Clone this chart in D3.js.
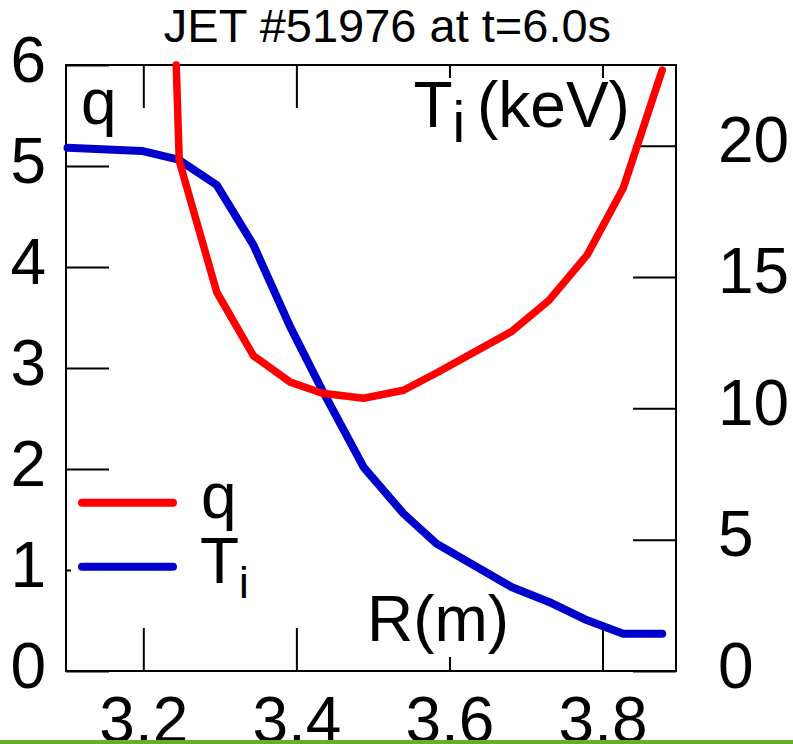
<!DOCTYPE html>
<html><head><meta charset="utf-8">
<script src="https://cdn.jsdelivr.net/npm/d3@7"></script>
<style>body{margin:0;background:#fff}svg{display:block}text{font-family:"Liberation Sans",Arial,sans-serif;fill:#000}</style>
</head><body><svg id="c" width="793" height="744"></svg>
<script>
// ---- data ----
const titleText = "JET #51976 at t=6.0s";
const rTi = [3.101, 3.198, 3.246, 3.296, 3.344, 3.392, 3.434, 3.488, 3.540, 3.583, 3.681, 3.730, 3.780, 3.827, 3.878];
const tiVals = [19.92, 19.80, 19.47, 18.50, 16.21, 13.10, 10.68, 7.75, 5.99, 4.85, 3.20, 2.63, 1.93, 1.42, 1.42];
const rQ = [3.243, 3.247, 3.296, 3.344, 3.392, 3.434, 3.488, 3.540, 3.583, 3.681, 3.730, 3.780, 3.827, 3.878];
const qVals = [6.0, 5.05, 3.75, 3.12, 2.86, 2.75, 2.70, 2.78, 2.95, 3.36, 3.67, 4.12, 4.78, 5.95];
const xTicks = [3.2, 3.4, 3.6, 3.8];
const qTicks = [0, 1, 2, 3, 4, 5, 6];
const tiTicks = [0, 5, 10, 15, 20];

// ---- layout ----
const svg = d3.select("#c");
const L = 66, T = 65, R = 676, B = 671, TL = 43;
const FS = 64;
const x = d3.scaleLinear().domain([3.099, 3.896]).range([L, R]);
const yq = d3.scaleLinear().domain([0, 6]).range([B, T]);
const yt = d3.scaleLinear().domain([0, 23.07]).range([B, T]);

function styleAxis(g) {
  g.select(".domain").remove();
  g.selectAll(".tick line").attr("stroke", "#000").attr("stroke-width", 2);
  g.selectAll(".tick text").attr("font-size", FS).attr("font-family", '"Liberation Sans",Arial,sans-serif').attr("fill", "#000");
}

// axes
svg.append("g").attr("transform", `translate(${L},0)`)
  .call(d3.axisLeft(yq).tickValues(qTicks).tickSize(-TL).tickPadding(20).tickFormat(d3.format("d")))
  .call(styleAxis).call(g => g.selectAll(".tick text").attr("dy", "0.25em"));
svg.append("g").attr("transform", `translate(${R},0)`)
  .call(d3.axisRight(yt).tickValues(tiTicks).tickSize(-TL).tickPadding(42).tickFormat(d3.format("d")))
  .call(styleAxis).call(g => g.selectAll(".tick text").attr("dy", "0.25em"));
svg.append("g").attr("transform", `translate(0,${B})`)
  .call(d3.axisBottom(x).tickValues(xTicks).tickSize(-TL).tickPadding(26).tickFormat(d3.format(".1f")))
  .call(styleAxis);
svg.append("g").attr("transform", `translate(0,${T})`)
  .call(d3.axisTop(x).tickValues(xTicks).tickSize(-TL).tickFormat(""))
  .call(styleAxis);

// frame
svg.append("rect").attr("x", L).attr("y", T).attr("width", R - L).attr("height", B - T)
  .attr("fill", "none").attr("stroke", "#000").attr("stroke-width", 2);

// title
svg.append("text").attr("x", 387.5).attr("y", 42).attr("text-anchor", "middle")
  .attr("font-size", 47).text(titleText);

// label backgrounds
svg.append("rect").attr("x", 410).attr("y", 78).attr("width", 222).attr("height", 66).attr("fill", "#fff");
svg.append("rect").attr("x", 364).attr("y", 590).attr("width", 146).attr("height", 67).attr("fill", "#fff");
svg.append("rect").attr("x", 71).attr("y", 478).attr("width", 185).attr("height", 125).attr("fill", "#fff");

// axis labels
svg.append("text").attr("x", 81).attr("y", 124).attr("font-size", FS).text("q");
const tl = svg.append("text").attr("x", 413.5).attr("y", 127).attr("font-size", FS);
tl.append("tspan").text("T");
tl.append("tspan").attr("font-size", 57).attr("dy", 15).text("i");
tl.append("tspan").attr("x", 477).attr("dy", -15).text("(keV)");
svg.append("text").attr("x", 367).attr("y", 641).attr("font-size", FS).text("R(m)");

// legend
const legend = [
  {name: "q", color: "#ff0000", y: 502.7},
  {name: "T", sub: "i", color: "#0000cc", y: 566.7}
];
legend.forEach(d => {
  svg.append("line").attr("x1", 82).attr("x2", 173).attr("y1", d.y).attr("y2", d.y)
    .attr("stroke", d.color).attr("stroke-width", 8).attr("stroke-linecap", "round");
});
svg.append("text").attr("x", 201).attr("y", 518).attr("font-size", FS).text("q");
const lt = svg.append("text").attr("x", 200).attr("y", 583).attr("font-size", FS);
lt.append("tspan").text("T");
lt.append("tspan").attr("x", 239).attr("dy", 15).attr("font-size", 44).text("i");

// data lines
const tiData = rTi.map((r, i) => [r, tiVals[i]]);
const qData = rQ.map((r, i) => [r, qVals[i]]);
svg.append("path").datum(tiData)
  .attr("d", d3.line().x(d => x(d[0])).y(d => yt(d[1])))
  .attr("fill", "none").attr("stroke", "#0000cc").attr("stroke-width", 8)
  .attr("stroke-linecap", "round").attr("stroke-linejoin", "round");
svg.append("path").datum(qData)
  .attr("d", d3.line().x(d => x(d[0])).y(d => yq(d[1])))
  .attr("fill", "none").attr("stroke", "#ff0000").attr("stroke-width", 7.5)
  .attr("stroke-linecap", "round").attr("stroke-linejoin", "round");

// bottom green bar
svg.append("rect").attr("x", 0).attr("y", 740).attr("width", 793).attr("height", 4).attr("fill", "#6aaf23");
</script>
</body></html>
